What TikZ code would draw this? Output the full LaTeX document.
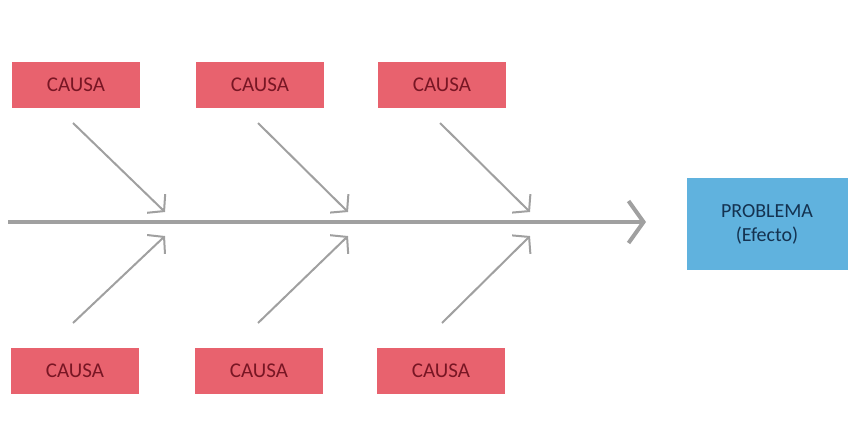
\documentclass[tikz,border=0pt]{standalone}
\usepackage{fontspec}
\setmainfont{Carlito}
\usetikzlibrary{arrows.meta}
\definecolor{causefill}{RGB}{232,98,110}
\definecolor{causetext}{RGB}{120,22,36}
\definecolor{effectfill}{RGB}{96,178,222}
\definecolor{effecttext}{RGB}{20,50,80}
\definecolor{bonegray}{RGB}{160,160,160}
\tikzset{
  causebox/.style={fill=causefill, draw=none, minimum width=128pt, minimum height=46pt, inner sep=0pt, text=causetext, font=\fontsize{21}{23}\selectfont},
  effectbox/.style={fill=effectfill, draw=none, minimum width=161pt, minimum height=92pt, inner sep=0pt, text=effecttext, align=center, font=\fontsize{20}{24}\selectfont},
  spine/.style={draw=bonegray, line width=4pt, -{Straight Barb[length=15pt, width=42pt, line width=4pt]}},
  bone/.style={draw=bonegray, line width=2pt, -{Straight Barb[length=11pt, width=26pt, line width=2pt]}},
}
\begin{document}
\begin{tikzpicture}[x=1pt, y=-1pt]
\useasboundingbox (0,0) rectangle (851,445);
\node[causebox] (c1) at (76,85) {CAUSA};
\node[causebox] (c2) at (260,85) {CAUSA};
\node[causebox] (c3) at (442,85) {CAUSA};
\node[causebox] (c4) at (75,371) {CAUSA};
\node[causebox] (c5) at (259,371) {CAUSA};
\node[causebox] (c6) at (441,371) {CAUSA};
\node[effectbox] (e) at (767,224) {PROBLEMA\\(Efecto)};
\coordinate (s0) at (8,222);
\coordinate (s1) at (646,222);
\draw[spine] (s0) -- (s1);
\coordinate (t1) at (73,123); \coordinate (h1) at (165,212);
\coordinate (t2) at (258,123); \coordinate (h2) at (348,212);
\coordinate (t3) at (440,123); \coordinate (h3) at (530,212);
\coordinate (t4) at (73,323); \coordinate (h4) at (165,236);
\coordinate (t5) at (258,323); \coordinate (h5) at (348,236);
\coordinate (t6) at (442,323); \coordinate (h6) at (530,236);
\foreach \i in {1,...,6} \draw[bone] (t\i) -- (h\i);
\end{tikzpicture}
\end{document}
